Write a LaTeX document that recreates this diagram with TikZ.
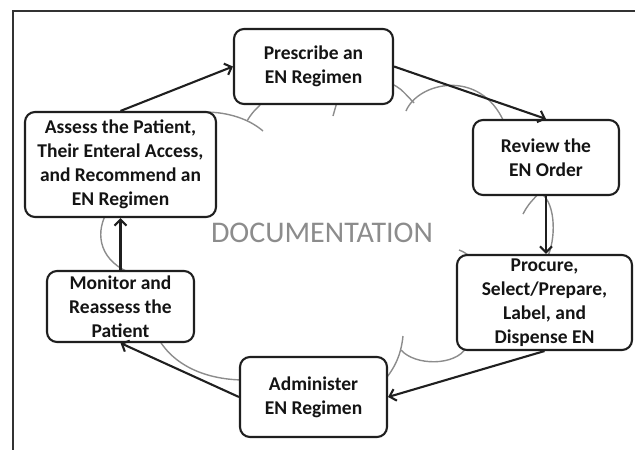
\documentclass[tikz,border=0pt]{standalone}
\usepackage{fontspec}
\setmainfont{Carlito}
\usetikzlibrary{arrows.meta}
\begin{document}
\begin{tikzpicture}[x=1pt,y=-1pt,
  box/.style={draw=black!88, line width=2.1pt, rounded corners=10pt, fill=white,
    align=center, font=\bfseries\fontsize{19.5}{24}\selectfont, text=black!92, inner sep=0pt},
  flow/.style={line width=2.1pt, draw=black!88, -{Straight Barb[length=6pt,width=12pt]}},
  cl/.style={draw=black!45, line width=1.4pt},
  frame/.style={draw=black!80, line width=1.2pt}]
\useasboundingbox (0,0) rectangle (635,450);
\draw[frame] (13,450) -- (13,11) -- (635,11);
% cloud (documentation) segments
\draw[cl] (190,113) .. controls (222,109) and (248,118) .. (263,131);
\draw[cl] (247,121) .. controls (252,113) .. (263,102);
\draw[cl] (333,116) -- (337,102);
\draw[cl] (390,83) .. controls (400,88) .. (414,103);
\draw[cl] (406,111) .. controls (418,82) and (480,68) .. (504,122);
\draw[cl] (523,214) .. controls (528,205) .. (540,192);
\draw[cl] (542,194) .. controls (556,205) and (556,240) .. (547,258);
\draw[cl] (459,250) .. controls (464,252) .. (472,258);
\draw[cl] (403,336) .. controls (401,355) and (395,368) .. (383,382);
\draw[cl] (401,350) .. controls (415,366) and (455,366) .. (466,348);
\draw[cl] (158,338) .. controls (175,368) and (210,380) .. (245,380);
\draw[cl] (106,214) .. controls (95,235) and (100,262) .. (133,274);
\node[text=black!45, font=\fontsize{30}{36}\selectfont] (doc) at (322,233) {DOCUMENTATION};
% boxes
\node[box, minimum width=159pt, minimum height=75pt] (prescribe) at (313.5,66.5) {Prescribe an\\EN Regimen};
\node[box, minimum width=146pt, minimum height=75pt] (review) at (546,157.5) {Review the\\EN Order};
\node[box, minimum width=175pt, minimum height=95pt] (procure) at (544.5,302.5) {Procure,\\Select/Prepare,\\Label, and\\Dispense EN};
\node[box, minimum width=147pt, minimum height=80pt] (admin) at (313.5,397) {Administer\\EN Regimen};
\node[box, minimum width=147pt, minimum height=71pt] (monitor) at (120.5,306.5) {Monitor and\\Reassess the\\Patient};
\node[box, minimum width=191pt, minimum height=105pt] (assess) at (120.5,164.5) {Assess the Patient,\\Their Enteral Access,\\and Recommend an\\EN Regimen};
% arrows
\draw[flow] (assess.north) -- (prescribe.west);
\draw[flow] (prescribe.east) -- (review.north);
\draw[flow] (review.south) -- (review.south |- procure.north);
\draw[flow] (procure.south) -- (admin.east);
\draw[flow] (admin.west) -- (monitor.south);
\draw[flow] (monitor.north) -- (assess.south);
\end{tikzpicture}
\end{document}
